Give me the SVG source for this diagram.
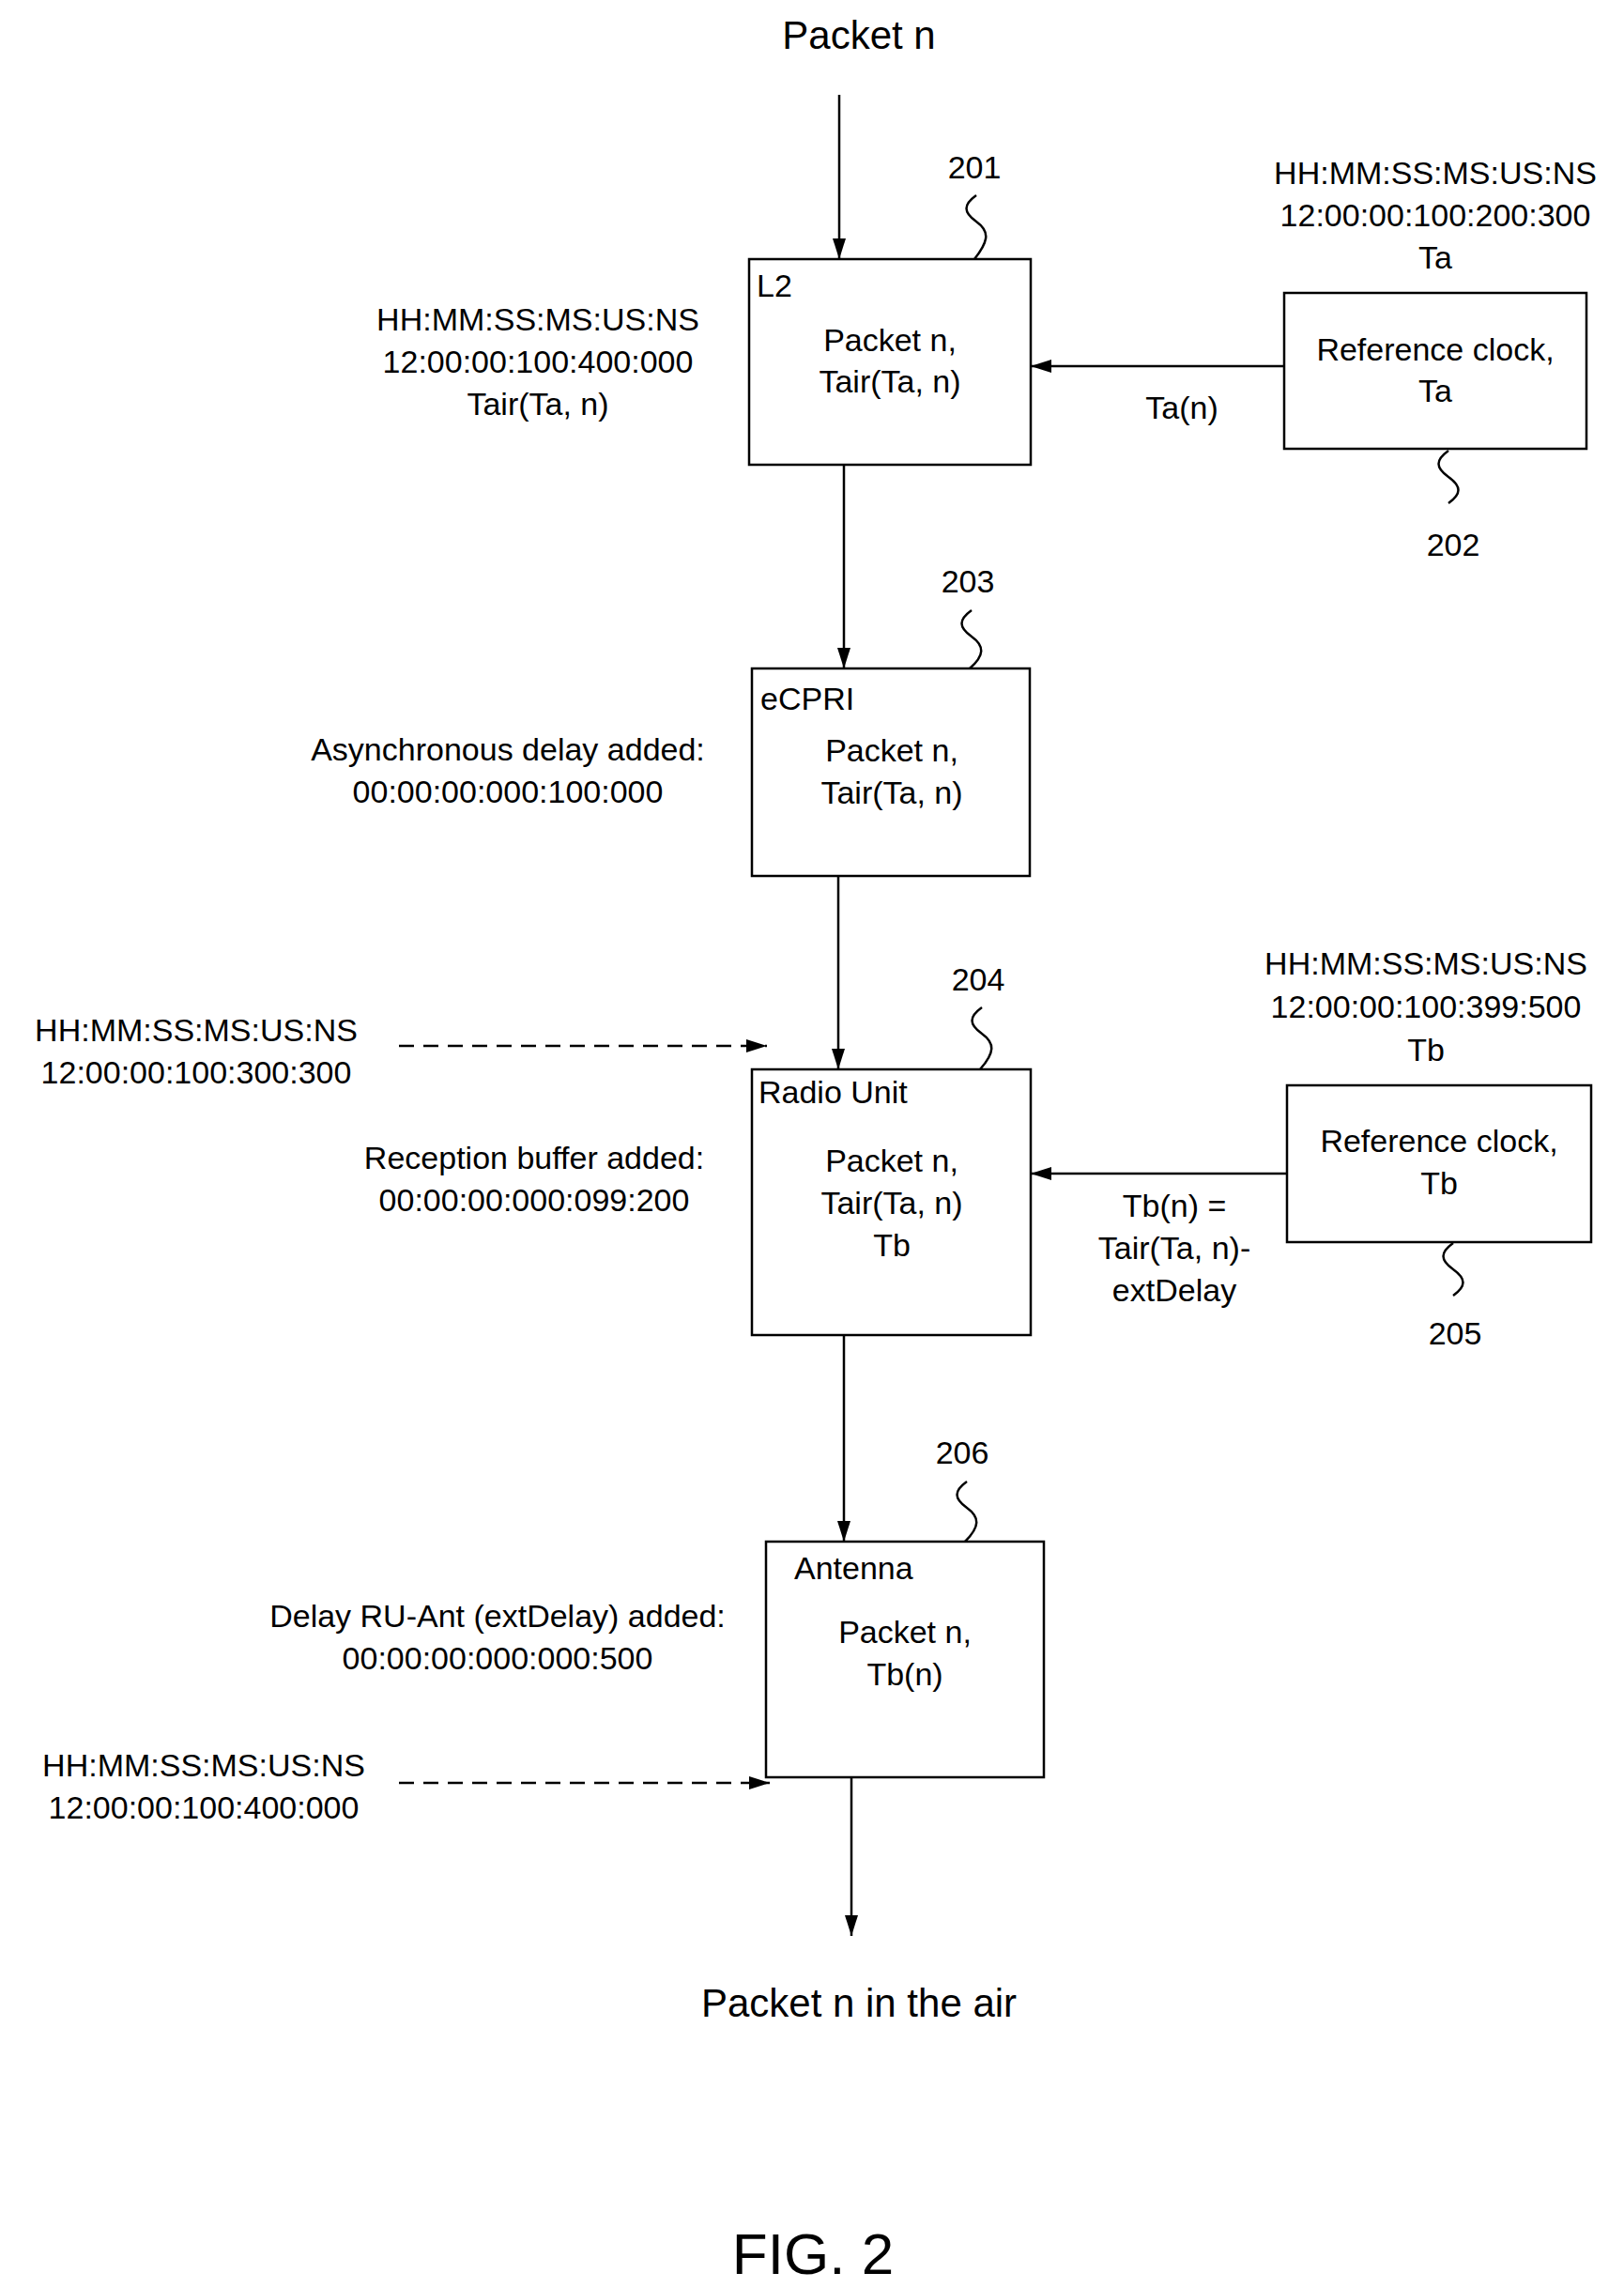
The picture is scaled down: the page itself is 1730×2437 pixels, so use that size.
<svg xmlns="http://www.w3.org/2000/svg" width="1730" height="2437" viewBox="0 0 1730 2437">
<defs>
<marker id="ah" markerWidth="22" markerHeight="14" refX="22" refY="7" orient="auto" markerUnits="userSpaceOnUse" viewBox="0 0 22 14"><path d="M0,0 L22,7 L0,14 z" fill="#000"/></marker>
<style>
text{font-family:"Liberation Sans",Arial,sans-serif;font-size:34px;fill:#000}
.c{text-anchor:middle}
.big{font-size:42px}
.fig{font-size:62px}
.box{fill:#fff;stroke:#000;stroke-width:2.5}
.ln{stroke:#000;stroke-width:2.5;fill:none}
.ar{stroke:#000;stroke-width:2.5;fill:none;marker-end:url(#ah)}
.da{stroke:#000;stroke-width:2.5;fill:none;stroke-dasharray:16,10;marker-end:url(#ah)}
</style>
</defs>
<rect width="1730" height="2437" fill="#fff"/>
<g id="connectors">
<path class="ar" d="M894,101 L894,276"/>
<path class="ar" d="M899,495 L899,712"/>
<path class="ar" d="M893,933 L893,1139"/>
<path class="ar" d="M899,1422 L899,1642"/>
<path class="ar" d="M907,1893 L907,2062"/>
<path class="ar" d="M1368,390 L1098,390"/>
<path class="ar" d="M1371,1250 L1098,1250"/>
<path class="da" d="M425,1114 L817,1114"/>
<path class="da" d="M425,1899 L820,1899"/>
<path class="ln" d="M1040,208 c-14,10 -14,18 0,28 c14,10 14,20 -2,40"/>
<path class="ln" d="M1543,480 c-14,10 -14,18 0,28 c14,10 14,18 0,28"/>
<path class="ln" d="M1035,650 c-14,10 -14,18 0,28 c14,10 14,20 -2,34"/>
<path class="ln" d="M1046,1073 c-14,10 -14,18 0,28 c14,10 14,20 -2,38"/>
<path class="ln" d="M1548,1324 c-14,10 -14,18 0,28 c14,10 14,18 0,28"/>
<path class="ln" d="M1030,1578 c-14,10 -14,18 0,28 c14,10 14,20 -2,36"/>
</g>
<text class="c big" x="915" y="52">Packet n</text>
<g id="n201"><text class="c" x="1038" y="190">201</text></g>
<g id="l2"><rect class="box" x="798" y="276" width="300" height="219"/>
<text x="806" y="316">L2</text>
<text class="c" x="948" y="374">Packet n,</text>
<text class="c" x="948" y="418">Tair(Ta, n)</text></g>
<g id="tl2"><text class="c" x="573" y="352">HH:MM:SS:MS:US:NS</text>
<text class="c" x="573" y="397">12:00:00:100:400:000</text>
<text class="c" x="573" y="442">Tair(Ta, n)</text></g>
<g id="refa"><rect class="box" x="1368" y="312" width="322" height="166"/>
<text class="c" x="1529" y="384">Reference clock,</text>
<text class="c" x="1529" y="428">Ta</text>
<text class="c" x="1529" y="196">HH:MM:SS:MS:US:NS</text>
<text class="c" x="1529" y="241">12:00:00:100:200:300</text>
<text class="c" x="1529" y="286">Ta</text></g>
<text class="c" x="1259" y="446">Ta(n)</text>
<g id="n202"><text class="c" x="1548" y="592">202</text></g>
<g id="n203"><text class="c" x="1031" y="631">203</text></g>
<g id="ecpri"><rect class="box" x="801" y="712" width="296" height="221"/>
<text x="810" y="756">eCPRI</text>
<text class="c" x="950" y="811">Packet n,</text>
<text class="c" x="950" y="856">Tair(Ta, n)</text></g>
<g id="tasync"><text class="c" x="541" y="810">Asynchronous delay added:</text>
<text class="c" x="541" y="855">00:00:00:000:100:000</text></g>
<g id="n204"><text class="c" x="1042" y="1055">204</text></g>
<g id="ru"><rect class="box" x="801" y="1139" width="297" height="283"/>
<text x="808" y="1175">Radio Unit</text>
<text class="c" x="950" y="1248">Packet n,</text>
<text class="c" x="950" y="1293">Tair(Ta, n)</text>
<text class="c" x="950" y="1338">Tb</text></g>
<g id="tru"><text class="c" x="209" y="1109">HH:MM:SS:MS:US:NS</text>
<text class="c" x="209" y="1154">12:00:00:100:300:300</text>
<text class="c" x="569" y="1245">Reception buffer added:</text>
<text class="c" x="569" y="1290">00:00:00:000:099:200</text></g>
<g id="refb"><rect class="box" x="1371" y="1156" width="324" height="167"/>
<text class="c" x="1533" y="1227">Reference clock,</text>
<text class="c" x="1533" y="1272">Tb</text>
<text class="c" x="1519" y="1038">HH:MM:SS:MS:US:NS</text>
<text class="c" x="1519" y="1084">12:00:00:100:399:500</text>
<text class="c" x="1519" y="1130">Tb</text></g>
<g id="tbn"><text class="c" x="1251" y="1296">Tb(n) =</text>
<text class="c" x="1251" y="1341">Tair(Ta, n)-</text>
<text class="c" x="1251" y="1386">extDelay</text></g>
<g id="n205"><text class="c" x="1550" y="1432">205</text></g>
<g id="n206"><text class="c" x="1025" y="1559">206</text></g>
<g id="ant"><rect class="box" x="816" y="1642" width="296" height="251"/>
<text x="846" y="1682">Antenna</text>
<text class="c" x="964" y="1750">Packet n,</text>
<text class="c" x="964" y="1795">Tb(n)</text></g>
<g id="tant"><text class="c" x="530" y="1733">Delay RU-Ant (extDelay) added:</text>
<text class="c" x="530" y="1778">00:00:00:000:000:500</text>
<text class="c" x="217" y="1892">HH:MM:SS:MS:US:NS</text>
<text class="c" x="217" y="1937">12:00:00:100:400:000</text></g>
<text class="c big" x="915" y="2148">Packet n in the air</text>
<text class="c fig" x="866" y="2422">FIG. 2</text>
</svg>
